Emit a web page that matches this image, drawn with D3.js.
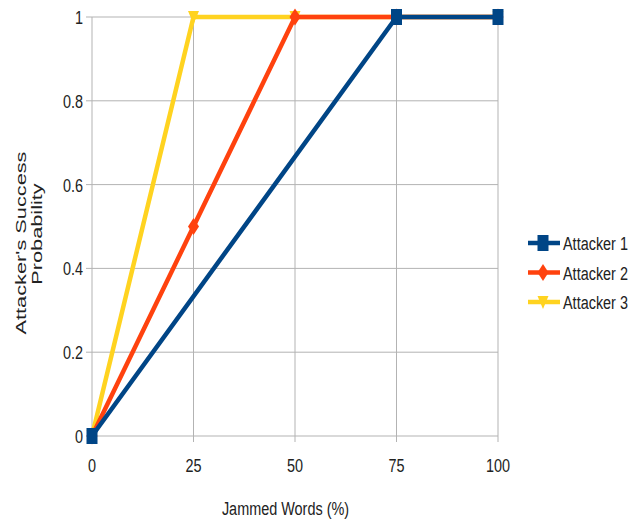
<!DOCTYPE html>
<html>
<head>
<meta charset="utf-8">
<script src="https://cdn.jsdelivr.net/npm/d3@7"></script>
<style>
  body { margin: 0; background: #fff; }
  text { font-family: "Liberation Sans", Arial, sans-serif; fill: #222; }
</style>
</head>
<body>
<div class="container"></div>
<script>
const xTicks = [0, 25, 50, 75, 100];
const yTicks = [0, 0.2, 0.4, 0.6, 0.8, 1];
const seriesNames = ["Attacker 1", "Attacker 2", "Attacker 3"];
const seriesColors = ["#004586", "#ff420e", "#ffd320"];
const attacker1X = [0, 75, 100];
const attacker1Y = [0, 1, 1];
const attacker2X = [0, 25, 50, 75, 100];
const attacker2Y = [0, 0.5, 1, 1, 1];
const attacker3X = [0, 25, 50, 75, 100];
const attacker3Y = [0, 1, 1, 1, 1];

const w = 642;
const h = 524;
const squeeze = 0.76; // the text in the picture is narrow

const series = [
  { name: seriesNames[0], color: seriesColors[0], xs: attacker1X, ys: attacker1Y, shape: "square" },
  { name: seriesNames[1], color: seriesColors[1], xs: attacker2X, ys: attacker2Y, shape: "diamond" },
  { name: seriesNames[2], color: seriesColors[2], xs: attacker3X, ys: attacker3Y, shape: "tri" }
];

const xScale = d3.scaleLinear().domain([0, 100]).range([92, 498]);
const yScale = d3.scaleLinear().domain([0, 1]).range([436, 17]);

const svg = d3.select(".container")
  .append("svg")
  .attr("width", w)
  .attr("height", h);

// helper for narrow horizontal text
function label(x, y, str, anchor) {
  return svg.append("text")
    .attr("transform", "translate(" + x + "," + y + ") scale(" + squeeze + ",1)")
    .attr("text-anchor", anchor)
    .attr("font-size", 19)
    .text(str);
}

// grid
svg.append("g")
  .selectAll("line")
  .data(xTicks)
  .enter()
  .append("line")
  .attr("x1", (d) => xScale(d))
  .attr("x2", (d) => xScale(d))
  .attr("y1", yScale(1))
  .attr("y2", yScale(0) + 6)
  .attr("stroke", "#b3b3b3")
  .attr("stroke-width", 1);

svg.append("g")
  .selectAll("line")
  .data(yTicks)
  .enter()
  .append("line")
  .attr("x1", xScale(0) - 6)
  .attr("x2", xScale(100))
  .attr("y1", (d) => yScale(d))
  .attr("y2", (d) => yScale(d))
  .attr("stroke", "#b3b3b3")
  .attr("stroke-width", 1);

// tick labels
xTicks.forEach((d) => label(xScale(d), yScale(0) + 36, d, "middle"));
yTicks.forEach((d) => label(xScale(0) - 9, yScale(d) + 7, d3.format("~g")(d), "end"));

// axis titles
label(285.5, 515, "Jammed Words (%)", "middle");

svg.append("text")
  .attr("transform", "translate(26,243) rotate(-90) scale(1.45,1)")
  .attr("text-anchor", "middle")
  .attr("font-size", 15)
  .text("Attacker's Success");
svg.append("text")
  .attr("transform", "translate(42,234) rotate(-90) scale(1.45,1)")
  .attr("text-anchor", "middle")
  .attr("font-size", 15)
  .text("Probability");

function marker(g, shape, x, y, color) {
  if (shape === "diamond") {
    g.append("path")
      .attr("d", `M${x},${y - 8.5}L${x + 5.5},${y}L${x},${y + 8.5}L${x - 5.5},${y}Z`)
      .attr("fill", color);
  } else if (shape === "tri") {
    g.append("path")
      .attr("d", `M${x - 5.5},${y - 6}L${x + 5.5},${y - 6}L${x},${y + 7}Z`)
      .attr("fill", color);
  } else {
    g.append("rect")
      .attr("x", x - 5.5)
      .attr("y", y - 8)
      .attr("width", 11)
      .attr("height", 16)
      .attr("fill", color);
  }
}

const line = d3.line()
  .x((d) => xScale(d[0]))
  .y((d) => yScale(d[1]));

// draw last series first so Attacker 1 sits on top
series.slice().reverse().forEach((s) => {
  const pts = s.xs.map((x, i) => [x, s.ys[i]]);
  const g = svg.append("g");
  g.append("path")
    .datum(pts)
    .attr("d", line)
    .attr("fill", "none")
    .attr("stroke", s.color)
    .attr("stroke-width", 4.5)
    .attr("stroke-linejoin", "round");
  pts.forEach((p) => marker(g, s.shape, xScale(p[0]), yScale(p[1]), s.color));
});

// legend
const legend = svg.append("g").attr("id", "legend");
series.forEach((s, i) => {
  const y = 243 + i * 29.5;
  legend.append("line")
    .attr("x1", 528)
    .attr("x2", 560)
    .attr("y1", y)
    .attr("y2", y)
    .attr("stroke", s.color)
    .attr("stroke-width", 4.5);
  marker(legend, s.shape, 543, y, s.color);
  label(563, y + 7, s.name, "start");
});
</script>
</body>
</html>
